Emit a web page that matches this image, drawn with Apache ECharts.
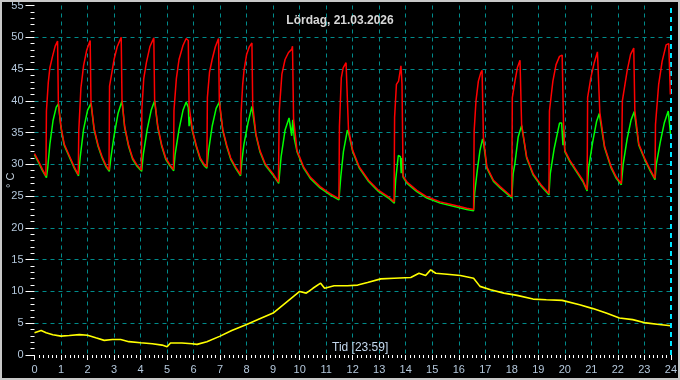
<!DOCTYPE html>
<html><head><meta charset="utf-8">
<script src="https://cdn.jsdelivr.net/npm/echarts@6/dist/echarts.min.js"></script>
<style>html,body{margin:0;padding:0;background:#000}#c{width:680px;height:380px}</style>
</head><body><div id="c"></div>
<script>
const titleText = 'Lördag, 21.03.2026';
const xLabelText = 'Tid [23:59]';
const yLabelText = '° C';
const hourTicks = [0,1,2,3,4,5,6,7,8,9,10,11,12,13,14,15,16,17,18,19,20,21,22,23,24];
const tempTicks = [0,5,10,15,20,25,30,35,40,45,50,55];

// red series [hour, °C]
const redData = [
[0,31.7],[0.15,30.5],[0.3,29.2],[0.43,28.2],[0.45,38.4],[0.52,42.9],[0.58,45.2],[0.68,47.0],[0.78,48.6],[0.87,49.4],[0.9,39.7],[1.0,35.9],[1.12,33.2],[1.31,31.4],[1.5,29.6],[1.65,28.4],
[1.67,35.3],[1.75,42],[1.85,45.5],[1.97,48],[2.1,49.5],[2.13,39.8],[2.25,35.6],[2.4,33.0],[2.55,31.2],[2.7,29.8],[2.81,29.1],
[2.83,42.3],[2.9,44],[3.0,46.5],[3.12,48.5],[3.27,50.0],[3.3,40.2],[3.4,36.0],[3.55,33.0],[3.7,31.0],[3.85,30.0],[4.03,29.1],
[4.05,38.7],[4.12,43.5],[4.22,46.0],[4.35,48.5],[4.5,49.9],[4.53,40.2],[4.65,36.0],[4.8,33.0],[4.95,31.0],[5.1,30.0],[5.24,29.2],
[5.26,38.5],[5.35,43.5],[5.45,46.5],[5.6,48.7],[5.72,49.8],[5.8,49.5],[5.83,39.2],[5.95,35.5],[6.1,33.0],[6.25,31.0],[6.4,30.0],[6.5,29.6],
[6.52,40.5],[6.6,44.5],[6.7,46.5],[6.82,48.5],[6.94,49.8],[6.97,40.0],[7.1,35.5],[7.25,33.0],[7.4,31.0],[7.6,29.5],[7.77,28.4],
[7.79,38],[7.85,42.5],[7.9,44.7],[8.0,47.3],[8.1,48.5],[8.2,49.1],[8.23,39.3],[8.35,34.8],[8.5,32.2],[8.7,30.1],[9.0,28.5],[9.2,27.2],
[9.23,38.4],[9.33,44.2],[9.45,46.5],[9.58,47.6],[9.7,48.1],[9.73,48.6],[9.77,37.2],[9.9,32.2],[10.15,29.6],[10.4,28.0],[10.77,26.5],[11.15,25.4],[11.48,24.6],
[11.5,36],[11.57,43.6],[11.64,45.2],[11.75,46.0],[11.8,46.0],[11.84,35.6],[12.0,32.2],[12.25,29.6],[12.6,27.5],[12.98,25.9],[13.35,24.9],[13.56,24.1],
[13.58,37.4],[13.65,42.6],[13.73,43.1],[13.8,43.3],[13.82,45.5],[13.86,42.6],[13.9,28.2],[14.05,27.2],[14.42,25.9],[14.8,24.9],[15.3,24.1],[15.8,23.6],[16.3,23.1],[16.56,22.9],
[16.58,35.2],[16.65,40.0],[16.74,43.1],[16.83,44.4],[16.88,44.8],[16.93,34.2],[17.06,29.6],[17.31,27.5],[17.56,26.5],[18.0,24.9],
[18.02,40.5],[18.12,43.1],[18.21,45.2],[18.31,46.4],[18.34,46.4],[18.37,36.3],[18.56,31.2],[18.81,28.5],[19.12,26.7],[19.4,25.4],
[19.42,38.4],[19.55,43.1],[19.67,45.7],[19.8,47.0],[19.9,47.2],[19.95,36.5],[20.0,32.2],[20.18,30.7],[20.43,29.1],[20.68,27.5],[20.84,26.0],
[20.86,40.5],[20.98,43.6],[21.11,46.0],[21.23,47.7],[21.27,47.8],[21.32,38.2],[21.5,32.8],[21.75,29.6],[21.94,28.0],[22.13,27.0],
[22.17,40.0],[22.35,44.7],[22.48,47.3],[22.6,48.3],[22.64,38.5],[22.79,33.2],[23.04,30.7],[23.23,29.1],[23.4,27.8],
[23.42,36.3],[23.54,42.6],[23.67,46.2],[23.82,48.8],[23.92,49.0],[23.98,41.0],[24.0,41.0]
];

// green series [hour, °C]
const greenData = [
[0,31.5],[0.15,30.3],[0.3,29.0],[0.45,27.9],[0.5,29.5],[0.58,33.2],[0.7,36.9],[0.82,39.0],[0.9,39.5],[1.0,35.7],[1.12,33.0],[1.31,31.2],[1.5,29.4],[1.66,28.2],
[1.72,31],[1.85,35.5],[2.0,38.5],[2.13,39.6],[2.25,35.4],[2.4,32.8],[2.55,31.0],[2.7,29.6],[2.82,28.9],
[2.88,31],[3.0,34.5],[3.15,38],[3.3,40.0],[3.4,35.8],[3.55,32.8],[3.7,30.8],[3.85,29.8],[4.04,28.9],
[4.1,31.5],[4.25,35.5],[4.4,38.5],[4.53,40.0],[4.65,35.8],[4.8,32.8],[4.95,30.8],[5.1,29.8],[5.25,29.0],
[5.3,31.5],[5.45,35.5],[5.6,38.5],[5.72,39.8],[5.8,39.0],[5.83,36],[5.86,37.5],[5.95,35.3],[6.1,32.8],[6.25,30.8],[6.4,29.8],[6.5,29.4],
[6.56,32],[6.7,36],[6.85,38.8],[6.97,39.8],[7.1,35.3],[7.25,32.8],[7.4,30.8],[7.6,29.3],[7.77,28.2],
[7.82,30.5],[7.9,33.2],[8.05,36.5],[8.2,39.1],[8.23,39.1],[8.35,34.6],[8.5,32.0],[8.7,29.9],[9.0,28.3],[9.21,27.0],
[9.3,31.2],[9.45,35.4],[9.6,37.3],[9.65,37.0],[9.7,34.5],[9.74,37.0],[9.8,34.0],[9.9,32.0],[10.15,29.4],[10.4,27.8],[10.77,26.3],[11.15,25.2],[11.48,24.4],
[11.55,28],[11.65,32],[11.8,35.4],[11.84,35.0],[12.0,32.0],[12.25,29.4],[12.6,27.3],[12.98,25.7],[13.35,24.7],[13.57,23.9],
[13.62,27.5],[13.72,31.4],[13.8,31.2],[13.83,28.6],[13.86,31.0],[13.9,28.0],[14.05,27.0],[14.42,25.7],[14.8,24.7],[15.3,23.9],[15.8,23.4],[16.3,22.9],[16.56,22.7],
[16.6,25.5],[16.7,29.1],[16.8,32.2],[16.9,34.0],[16.93,33.5],[17.06,29.4],[17.31,27.3],[17.56,26.3],[18.0,24.7],
[18.05,28.5],[18.12,30.2],[18.24,34.3],[18.37,36.1],[18.56,31.0],[18.81,28.3],[19.12,26.5],[19.4,25.2],
[19.45,28.5],[19.6,32.5],[19.8,36.5],[19.88,36.5],[19.93,33.0],[19.96,35.5],[20.0,32.0],[20.18,30.5],[20.43,28.9],[20.68,27.3],[20.84,25.8],
[20.9,29.5],[21.05,33.5],[21.2,36.8],[21.3,38.0],[21.5,32.6],[21.75,29.4],[21.94,27.8],[22.13,26.8],
[22.2,30],[22.35,34],[22.5,37],[22.62,38.3],[22.79,33.0],[23.04,30.5],[23.23,28.9],[23.4,27.6],
[23.45,30],[23.6,33.5],[23.75,36.5],[23.9,38.4],[24.0,34.2]
];

// yellow (outdoor) series [hour, °C]
const yellowData = [
[0,3.5],[0.25,3.85],[0.44,3.5],[0.69,3.2],[1.0,2.97],[1.31,3.07],[1.69,3.2],[2.0,3.1],[2.31,2.7],[2.63,2.3],[2.94,2.45],[3.25,2.45],[3.56,2.1],[4.0,1.93],[4.44,1.77],[4.81,1.56],[5.0,1.3],[5.13,1.9],[5.56,1.9],[5.94,1.77],[6.13,1.67],[6.5,2.1],[7.0,2.97],[7.44,3.85],[8.0,4.8],[8.56,5.83],[9.0,6.6],[9.31,7.66],[9.69,8.96],[10.0,10.0],[10.25,9.74],[10.5,10.5],[10.79,11.3],[10.94,10.5],[11.3,10.9],[11.8,10.9],[12.19,11.0],[12.56,11.4],[13.06,11.98],[13.56,12.08],[14.19,12.2],[14.5,12.86],[14.75,12.5],[14.94,13.4],[15.13,12.86],[15.56,12.7],[16.06,12.5],[16.56,12.08],[16.8,10.8],[17.2,10.26],[17.7,9.74],[18.2,9.38],[18.8,8.8],[19.3,8.7],[19.9,8.6],[20.56,7.9],[21.06,7.3],[21.56,6.6],[22.06,5.83],[22.56,5.57],[23.06,5.05],[23.56,4.8],[24.0,4.6]
];

const labelColor = '#b4c8dc';
const gridColor = '#008b8b';
const font = 'Liberation Sans, Arial, sans-serif';

const chart = echarts.init(document.getElementById('c'));
chart.setOption({
  backgroundColor: '#000',
  animation: false,
  grid: {left: 34.5, right: 5, top: 4, bottom: 25, containLabel: false},
  title: {
    text: titleText, left: 'center', top: 10,
    textStyle: {color: '#d8d8d8', fontSize: 12, fontWeight: 'bold', fontFamily: font}
  },
  graphic: [
    {type: 'rect', shape: {x: 0, y: 0, width: 680, height: 380}, style: {fill: 'none', stroke: '#c8c8c8', lineWidth: 4}, silent: true, z: 100},
    {type: 'text', left: 332, top: 342, style: {text: xLabelText, fill: '#c4d8ee', font: '12px ' + font}, z: 50},
    {type: 'text', x: 5, y: 188, rotation: Math.PI / 2, style: {text: yLabelText, fill: '#c4d0dc', font: '11px ' + font}, z: 50}
  ],
  xAxis: {
    type: 'value', min: hourTicks[0], max: hourTicks[hourTicks.length - 1], interval: 1,
    axisLine: {show: false},
    axisTick: {show: true, length: 5, lineStyle: {color: '#ffffff', width: 1}},
    minorTick: {show: true, splitNumber: 6, length: 3, lineStyle: {color: '#ffffff', width: 1}},
    axisLabel: {color: labelColor, fontSize: 11, margin: 9, fontFamily: font},
    splitLine: {show: true, showMinLine: false, showMaxLine: false, lineStyle: {color: gridColor, type: [4, 4], width: 1}}
  },
  yAxis: {
    type: 'value', min: tempTicks[0], max: tempTicks[tempTicks.length - 1], interval: 5,
    axisLine: {show: false},
    axisTick: {show: true, length: 9, lineStyle: {color: '#ffffff', width: 1}},
    minorTick: {show: true, splitNumber: 5, length: 4, lineStyle: {color: '#ffffff', width: 1}},
    axisLabel: {color: labelColor, fontSize: 11, margin: 11, fontFamily: font},
    splitLine: {show: true, showMinLine: false, showMaxLine: false, lineStyle: {color: gridColor, type: [4, 4], width: 1}}
  },
  series: [
    {type: 'line', data: yellowData, showSymbol: false, lineStyle: {color: '#ffff00', width: 1.6}, z: 3},
    {type: 'line', data: greenData, showSymbol: false, lineStyle: {color: '#00ff00', width: 1.5}, z: 4},
    {type: 'line', data: redData, showSymbol: false, lineStyle: {color: '#ff0000', width: 1.5}, z: 5,
     markLine: {silent: true, symbol: 'none', label: {show: false},
       lineStyle: {color: '#00e5ff', type: [5, 4], width: 2},
       data: [{xAxis: hourTicks[hourTicks.length - 1]}]}}
  ]
});
</script></body></html>
